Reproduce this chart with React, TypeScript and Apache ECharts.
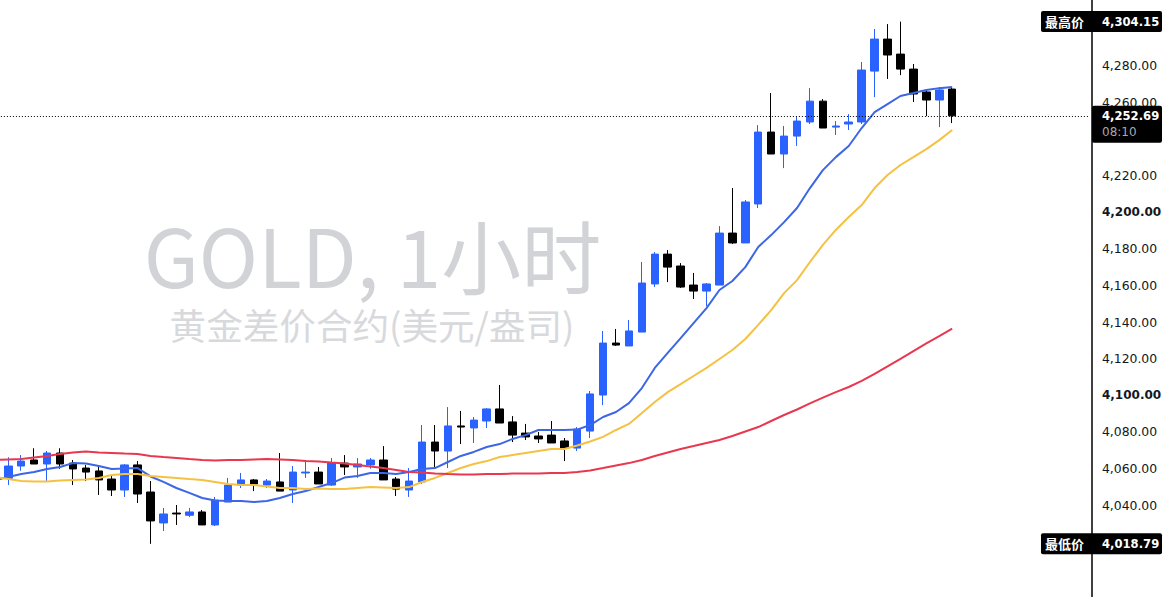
import { useEffect, useRef } from "react";
import * as echarts from "echarts";

// [open, close, low, high] per hourly bar
const candles: [number, number, number, number][] = [
  [4054.6, 4061.3, 4050.9, 4066.1], [4061.3, 4064.0, 4058.7, 4067.3], [4064.6, 4062.4, 4062.4, 4071.0],
  [4062.4, 4068.4, 4053.1, 4069.5], [4068.4, 4062.4, 4059.8, 4071.0], [4062.9, 4059.7, 4050.9, 4064.6],
  [4060.2, 4058.0, 4053.1, 4061.9], [4058.6, 4053.7, 4045.5, 4061.3], [4054.2, 4048.2, 4044.9, 4055.8],
  [4048.2, 4061.9, 4044.4, 4062.4], [4061.9, 4046.0, 4041.1, 4064.0], [4047.1, 4031.3, 4018.79, 4053.1],
  [4030.2, 4035.1, 4025.8, 4038.4], [4035.6, 4035.1, 4029.1, 4040.0], [4034.4, 4036.2, 4033.4, 4038.4],
  [4036.2, 4029.1, 4029.1, 4037.3], [4029.1, 4042.7, 4028.5, 4044.4], [4041.6, 4050.9, 4041.6, 4054.8],
  [4050.9, 4053.7, 4049.3, 4057.5], [4053.7, 4051.5, 4047.6, 4054.2], [4050.9, 4053.1, 4049.3, 4054.2],
  [4052.6, 4047.6, 4047.6, 4068.4], [4048.2, 4058.0, 4041.1, 4061.3], [4057.5, 4058.0, 4054.8, 4064.6],
  [4058.0, 4051.5, 4051.5, 4060.8], [4050.9, 4062.9, 4050.4, 4065.7], [4062.9, 4060.8, 4056.4, 4067.3],
  [4060.8, 4062.4, 4054.8, 4065.7], [4061.9, 4064.6, 4059.8, 4065.7], [4064.6, 4053.7, 4053.7, 4072.2],
  [4054.2, 4048.7, 4044.9, 4055.3], [4048.2, 4053.1, 4044.4, 4060.2], [4052.6, 4074.4, 4051.5, 4083.7],
  [4074.4, 4069.5, 4060.2, 4083.7], [4069.5, 4083.2, 4060.2, 4093.5], [4083.2, 4082.6, 4073.3, 4091.4],
  [4082.1, 4086.4, 4073.9, 4088.1], [4085.9, 4092.5, 4082.1, 4093.0], [4092.5, 4084.8, 4084.8, 4105.6],
  [4085.4, 4078.2, 4074.4, 4088.6], [4079.3, 4077.2, 4075.5, 4084.3], [4077.7, 4076.1, 4073.9, 4079.9],
  [4078.2, 4073.9, 4073.9, 4085.9], [4075.0, 4071.1, 4064.0, 4076.6], [4071.1, 4081.5, 4069.5, 4082.6],
  [4080.4, 4100.7, 4076.6, 4102.3], [4100.1, 4128.5, 4094.6, 4135.1], [4128.5, 4127.4, 4126.9, 4136.2],
  [4126.9, 4135.1, 4126.9, 4141.1], [4134.5, 4161.3, 4134.5, 4172.8], [4160.8, 4177.1, 4159.1, 4178.2],
  [4177.1, 4170.0, 4161.8, 4179.3], [4170.6, 4159.1, 4158.6, 4172.2], [4160.2, 4156.9, 4152.6, 4166.8],
  [4156.9, 4160.8, 4148.7, 4161.3], [4160.2, 4188.6, 4160.2, 4192.4], [4188.6, 4183.2, 4182.6, 4213.2],
  [4183.2, 4205.6, 4183.2, 4206.7], [4204.5, 4243.8, 4202.3, 4247.6], [4243.8, 4231.8, 4231.8, 4265.1],
  [4231.8, 4241.6, 4224.1, 4247.1], [4241.6, 4249.8, 4236.2, 4252.5], [4249.3, 4260.7, 4248.2, 4267.8],
  [4260.7, 4246.0, 4246.0, 4261.8], [4246.5, 4247.1, 4242.2, 4249.8], [4248.2, 4249.3, 4244.9, 4253.6],
  [4249.3, 4277.7, 4248.2, 4282.1], [4277.1, 4294.6, 4262.9, 4300.1], [4294.6, 4285.9, 4272.8, 4302.8],
  [4286.4, 4278.2, 4274.9, 4304.15], [4278.2, 4264.6, 4260.2, 4281.0], [4265.7, 4261.3, 4252.5, 4266.8],
  [4261.3, 4266.8, 4246.5, 4268.4], [4267.3, 4252.69, 4248.7, 4268.4],
];

// moving averages start one bar before the first visible candle
const maBlue = [
  4053.7, 4055.3, 4056.9, 4058.0, 4059.7, 4060.8, 4062.9, 4062.7, 4061.3, 4059.7, 4059.9, 4060.2, 4055.6,
  4052.6, 4049.3, 4046.6, 4043.8, 4042.5, 4042.2, 4042.2, 4041.6, 4042.2, 4043.8, 4046.0, 4047.6, 4049.8,
  4052.0, 4055.0, 4055.8, 4057.5, 4057.5, 4056.9, 4058.0, 4059.7, 4060.2, 4063.5, 4066.8, 4069.0, 4071.7,
  4073.3, 4076.1, 4078.2, 4081.0, 4081.0, 4081.0, 4081.2, 4083.7, 4088.1, 4090.8, 4095.7, 4103.9, 4114.9,
  4123.1, 4131.2, 4139.4, 4147.6, 4157.5, 4162.4, 4170.0, 4181.0, 4187.5, 4194.6, 4202.3, 4213.2, 4223.0,
  4230.1, 4236.2, 4246.0, 4254.7, 4259.1, 4263.5, 4265.1, 4266.8, 4267.8, 4268.4,
];
const maOrange = [
  4055.3, 4054.2, 4053.1, 4052.8, 4052.8, 4053.4, 4053.7, 4053.9, 4054.8, 4056.4, 4056.9, 4056.9, 4055.8,
  4055.3, 4054.8, 4054.2, 4053.7, 4052.6, 4051.5, 4050.9, 4050.9, 4050.1, 4049.3, 4049.3, 4048.7, 4049.0,
  4048.7, 4048.7, 4049.3, 4049.8, 4049.6, 4049.3, 4049.8, 4052.6, 4054.8, 4057.5, 4060.2, 4062.4, 4064.0,
  4066.2, 4067.3, 4068.4, 4069.5, 4070.6, 4070.6, 4072.5, 4074.7, 4077.2, 4081.0, 4084.3, 4090.3, 4096.3,
  4101.7, 4106.1, 4110.5, 4114.9, 4119.8, 4124.7, 4130.7, 4138.4, 4146.5, 4155.8, 4162.9, 4172.8, 4182.1,
  4190.3, 4197.4, 4203.9, 4213.2, 4220.3, 4225.8, 4230.1, 4234.5, 4239.4, 4244.9,
];
const maRed = [
  4064.6, 4064.9, 4065.1, 4066.0, 4066.8, 4067.9, 4068.7, 4069.2, 4068.7, 4068.4, 4068.1, 4067.9, 4066.8,
  4066.2, 4065.7, 4065.1, 4064.6, 4064.3, 4064.6, 4064.6, 4064.9, 4065.1, 4064.9, 4064.6, 4064.0, 4063.8,
  4063.2, 4062.7, 4061.9, 4061.0, 4060.2, 4059.1, 4058.0, 4057.8, 4057.2, 4056.9, 4056.7, 4056.7, 4056.9,
  4056.9, 4057.2, 4057.2, 4057.2, 4057.5, 4057.5, 4058.0, 4058.9, 4060.2, 4061.6, 4062.9, 4064.6, 4066.8,
  4068.7, 4070.6, 4072.2, 4073.9, 4075.5, 4077.7, 4080.2, 4082.6, 4085.9, 4089.2, 4092.2, 4095.5, 4098.7,
  4101.7, 4104.5, 4107.8, 4111.6, 4115.7, 4119.8, 4124.1, 4128.3, 4132.3, 4136.4,
];

const priceTicks = [4040, 4060, 4080, 4100, 4120, 4140, 4160, 4180, 4200, 4220, 4260, 4280];
const boldTicks = [4100, 4200];

const lastPrice = 4252.69;
const highPrice = 4304.15;
const lowPrice = 4018.79;
const countdown = "08:10";

const AXIS_MIN = 3989.73;
const AXIS_MAX = 4315.96;
const WIDTH = 1163;
const HEIGHT = 597;
const SLOTS = 85; // bars that fit in the pane incl. empty space on the right
const LATIN = '"DejaVu Sans", sans-serif';
const CJK = '"Noto Sans CJK SC", sans-serif';

const fmt = (v: number) =>
  v.toLocaleString("en-US", { minimumFractionDigits: 2, maximumFractionDigits: 2 });
const yOf = (v: number) => (HEIGHT * (AXIS_MAX - v)) / (AXIS_MAX - AXIS_MIN);

/* 最高价 / 最低价 tag on the price scale */
function extremeTag(label: string, price: number) {
  const y = yOf(price);
  return [
    { type: "rect", z: 100, shape: { x: 1041, y: y - 10.5, width: 121, height: 21, r: 2 }, style: { fill: "#000" } },
    { type: "text", z: 101, x: 1045, y, style: { text: label, fill: "#fff", font: `bold 13px ${CJK}`, textVerticalAlign: "middle" } },
    { type: "text", z: 101, x: 1102, y, style: { text: fmt(price), fill: "#fff", font: `bold 11.6px ${LATIN}`, textVerticalAlign: "middle" } },
  ];
}

export default function App() {
  const chartRef = useRef<HTMLDivElement>(null);

  useEffect(() => {
    if (!chartRef.current) return;
    const chart = echarts.init(chartRef.current, null, { renderer: "svg" });
    const categories = Array.from({ length: SLOTS }, (_, i) => String(i));
    const lastY = yOf(lastPrice);

    const maLine = (name: string, data: number[], color: string) => ({
      name,
      type: "line" as const,
      data,
      showSymbol: false,
      silent: true,
      z: 3,
      lineStyle: { width: 2, color },
    });

    chart.setOption({
      animation: false,
      backgroundColor: "#fff",
      grid: { left: -11.1, top: 0, width: 12.93 * SLOTS, height: HEIGHT, outerBoundsMode: "none" },
      xAxis: { type: "category", data: categories, show: false },
      yAxis: {
        type: "value",
        position: "right",
        offset: 4,
        min: AXIS_MIN,
        max: AXIS_MAX,
        splitLine: { show: false },
        axisTick: { show: false },
        axisLine: { show: true, lineStyle: { color: "#000", width: 1.5 } },
        axisLabel: {
          margin: 10,
          customValues: priceTicks,
          color: "#131722",
          fontFamily: LATIN,
          fontSize: 12.4,
          formatter: (v: number) => (boldTicks.includes(v) ? `{b|${fmt(v)}}` : fmt(v)),
          rich: { b: { fontWeight: "bold", fontSize: 12, fontFamily: LATIN, color: "#131722" } },
        },
      },
      series: [
        {
          type: "candlestick",
          barWidth: 8,
          data: [["-", "-", "-", "-"], ...candles],
          z: 2,
          itemStyle: {
            color: "#2962ff",
            borderColor: "#2962ff",
            color0: "#000",
            borderColor0: "#000",
            borderWidth: 1,
          },
          markLine: {
            silent: true,
            symbol: "none",
            label: { show: false },
            lineStyle: { color: "#000", width: 1, type: [1, 2] },
            data: [{ yAxis: lastPrice }],
          },
        },
        maLine("MA20", maBlue, "#3c66e4"),
        maLine("MA50", maOrange, "#f5c142"),
        maLine("MA200", maRed, "#e8384f"),
      ],
      graphic: [
        {
          type: "text", z: -1, x: 372.5, y: 253,
          style: { text: "GOLD, 1小时", fill: "#d2d3d7", font: `80px "Noto Sans CJK SC", "Noto Sans", sans-serif`, textAlign: "center", textVerticalAlign: "middle" },
        },
        {
          type: "text", z: -1, x: 372, y: 324,
          style: { text: "黄金差价合约(美元/盎司)", fill: "#d8d9dc", font: `36.6px ${CJK}`, textAlign: "center", textVerticalAlign: "middle" },
        },
        { type: "rect", z: 100, shape: { x: 1092, y: lastY - 10, width: 70, height: 37, r: 2 }, style: { fill: "#000" } },
        { type: "text", z: 101, x: 1102, y: lastY, style: { text: fmt(lastPrice), fill: "#fff", font: `bold 11.6px ${LATIN}`, textVerticalAlign: "middle" } },
        { type: "text", z: 101, x: 1102, y: lastY + 16, style: { text: countdown, fill: "#a9a9a9", font: `12px ${LATIN}`, textVerticalAlign: "middle" } },
        ...extremeTag("最高价", highPrice),
        ...extremeTag("最低价", lowPrice),
      ],
    });

    return () => chart.dispose();
  }, []);

  return <div ref={chartRef} style={{ position: "fixed", left: 0, top: 0, width: WIDTH, height: HEIGHT }} />;
}
